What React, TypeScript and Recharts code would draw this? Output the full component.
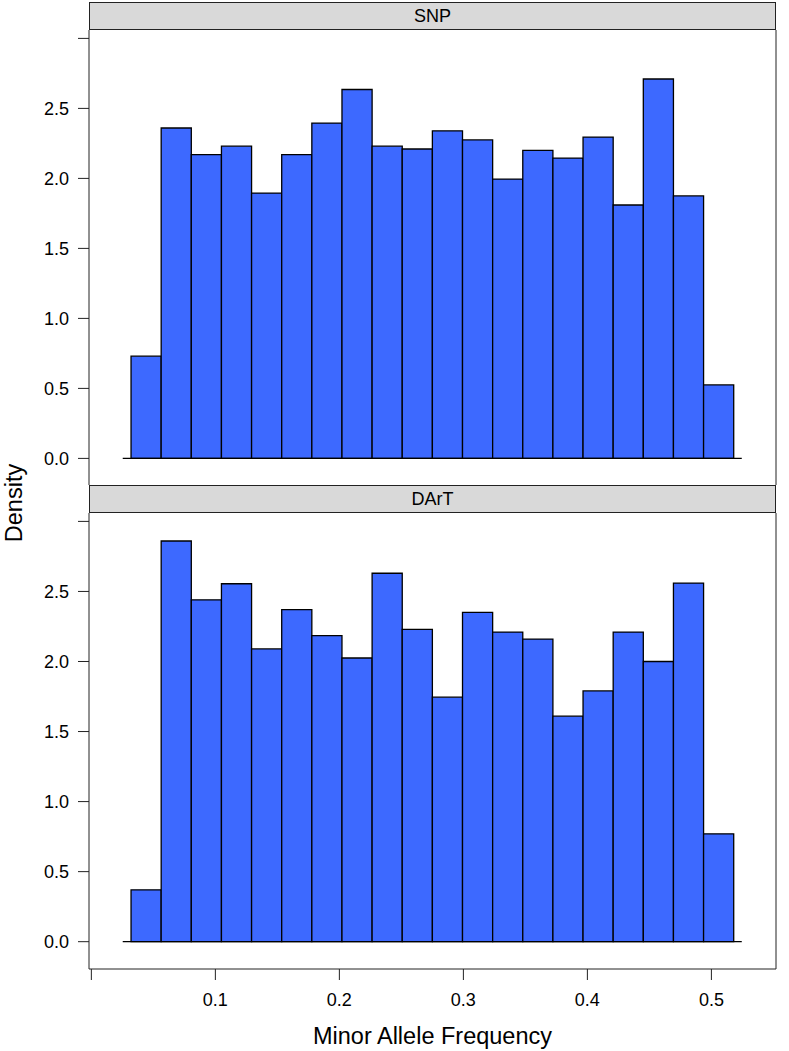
import React from 'react';
import { ComposedChart, XAxis, YAxis, ReferenceArea, ReferenceLine } from 'recharts';

// histogram break points (shared by both panels)
const binEdges = [
  0.032, 0.0563, 0.0806, 0.1049, 0.1292, 0.1535, 0.1778, 0.2021, 0.2264, 0.2507, 0.275,
  0.2993, 0.3236, 0.3479, 0.3722, 0.3965, 0.4208, 0.4451, 0.4694, 0.4937, 0.518,
];

const snpDensity = [
  0.73, 2.36, 2.17, 2.23, 1.895, 2.17, 2.395, 2.635, 2.23, 2.21,
  2.34, 2.275, 1.995, 2.2, 2.145, 2.295, 1.81, 2.71, 1.875, 0.525,
];

const dartDensity = [
  0.37, 2.86, 2.44, 2.555, 2.09, 2.37, 2.185, 2.025, 2.63, 2.23,
  1.745, 2.35, 2.21, 2.16, 1.61, 1.79, 2.21, 2.0, 2.56, 0.77,
];

const xTicks = [0, 0.1, 0.2, 0.3, 0.4, 0.5];
const yTicks = [0, 0.5, 1, 1.5, 2, 2.5, 3];
const baselineRange = [0.0253, 0.5245];

const FONT = '"Liberation Sans", Arial, Helvetica, sans-serif';
const INK = '#222';
const BAR_FILL = '#3d69ff';

type PanelProps = {
  name: string;
  values: number[];
  top: number;
  height: number;
  yDomain: [number, number];
  showX: boolean;
};

const Panel: React.FC<PanelProps> = ({ name, values, top, height, yDomain, showX }) => {
  const bins = values.map((d, i) => ({ x0: binEdges[i], x1: binEdges[i + 1], density: d }));
  return (
    <>
      <div style={{ position: 'absolute', left: 0, top }}>
        <ComposedChart
          width={789}
          height={height}
          data={bins}
          margin={{ top: 30, right: 0, left: 29, bottom: showX ? 2 : 15 }}
          style={{ fontFamily: FONT }}
        >
          <XAxis
            xAxisId="bottom"
            type="number"
            dataKey="x0"
            domain={[-0.0019, 0.5521]}
            allowDataOverflow
            ticks={showX ? xTicks : []}
            tick={showX ? { fill: '#000', fontSize: 18 } : false}
            tickLine={showX ? { stroke: INK } : false}
            tickSize={11}
            tickMargin={13}
            tickFormatter={(v: number) => (v === 0 ? '' : v.toFixed(1))}
            axisLine={{ stroke: INK }}
            height={showX ? 80 : 0}
            label={
              showX
                ? { value: 'Minor Allele Frequency', position: 'insideBottom', offset: 5, fill: '#000', fontSize: 23.5 }
                : undefined
            }
          />
          <XAxis
            xAxisId="top"
            orientation="top"
            type="number"
            domain={[-0.0019, 0.5521]}
            allowDataOverflow
            tick={false}
            tickLine={false}
            axisLine={{ stroke: INK }}
            height={0}
          />
          <YAxis
            yAxisId="left"
            type="number"
            domain={yDomain}
            allowDataOverflow
            ticks={yTicks}
            width={60}
            tickSize={11}
            tickMargin={9}
            tick={{ fill: '#000', fontSize: 18 }}
            tickLine={{ stroke: INK }}
            axisLine={{ stroke: INK }}
            tickFormatter={(v: number) => (v === 3 ? '' : v.toFixed(1))}
          />
          <YAxis
            yAxisId="right"
            orientation="right"
            type="number"
            domain={yDomain}
            allowDataOverflow
            ticks={yTicks}
            width={13}
            tickSize={11}
            tick={false}
            tickLine={{ stroke: INK }}
            axisLine={{ stroke: INK }}
          />
          {bins.map((b, i) => (
            <ReferenceArea
              key={i}
              xAxisId="bottom"
              yAxisId="left"
              x1={b.x0}
              x2={b.x1}
              y1={0}
              y2={b.density}
              fill={BAR_FILL}
              fillOpacity={1}
              stroke="#000"
              strokeWidth={1.3}
              ifOverflow="visible"
            />
          ))}
          <ReferenceLine
            xAxisId="bottom"
            yAxisId="left"
            segment={[
              { x: baselineRange[0], y: 0 },
              { x: baselineRange[1], y: 0 },
            ]}
            stroke="#000"
            strokeWidth={1.3}
          />
        </ComposedChart>
      </div>
      <div
        style={{
          position: 'absolute',
          left: 89,
          top: top + 2,
          width: 687,
          height: 28,
          boxSizing: 'border-box',
          border: `1px solid ${INK}`,
          background: '#d9d9d9',
          fontFamily: FONT,
          fontSize: 18,
          lineHeight: '26px',
          textAlign: 'center',
          color: '#000',
        }}
      >
        {name}
      </div>
    </>
  );
};

export default function App() {
  return (
    <div style={{ position: 'absolute', left: 0, top: 0, width: 789, height: 1051, background: '#fff' }}>
      <Panel name="SNP" values={snpDensity} top={0} height={500} yDomain={[-0.19, 3.06]} showX={false} />
      <Panel name="DArT" values={dartDensity} top={483} height={568} yDomain={[-0.195, 3.06]} showX />
      <div
        style={{
          position: 'absolute',
          left: 14,
          top: 503,
          transform: 'translate(-50%, -50%) rotate(-90deg)',
          fontFamily: FONT,
          fontSize: 23.5,
          lineHeight: '26px',
          color: '#000',
          whiteSpace: 'nowrap',
        }}
      >
        Density
      </div>
    </div>
  );
}
